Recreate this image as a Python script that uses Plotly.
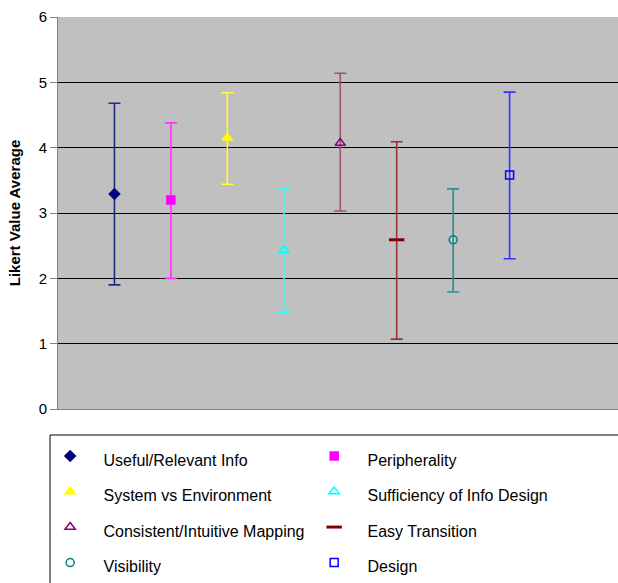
import plotly.graph_objects as go

names = ["Useful/Relevant Info", "Peripherality", "System vs Environment",
         "Sufficiency of Info Design", "Consistent/Intuitive Mapping",
         "Easy Transition", "Visibility", "Design"]
x_pos = [1, 2, 3, 4, 5, 6, 7, 8]
means = [3.29, 3.20, 4.15, 2.43, 4.07, 2.59, 2.59, 3.58]
upper = [4.68, 4.38, 4.84, 3.37, 5.14, 4.09, 3.37, 4.85]
lower = [1.90, 2.00, 3.44, 1.48, 3.03, 1.07, 1.79, 2.30]
colors = ["#000080", "#FF00FF", "#FFFF00", "#00FFFF", "#800080", "#800000", "#008080", "#0000FF"]
bar_colors = ["#1f2a80", "#FF33FF", "#FFFF33", "#33FFFF", "#a0507a", "#993333", "#2a9090", "#3333FF"]
symbols = ["diamond", "square", "triangle-up", "triangle-up-open", "triangle-up-open",
           "line-ew", "circle-open", "square-open"]
sizes = [8, 8, 9, 9, 9, 11, 8, 8]

fig = go.Figure()
for i in range(len(names)):
    fig.add_trace(go.Scatter(
        x=[x_pos[i]], y=[means[i]], mode="markers",
        name='<span style="font-size:16px">\u00a0\u00a0\u00a0' + names[i] + "</span>",
        marker=dict(symbol=symbols[i], color=colors[i], size=sizes[i],
                    line=dict(color=colors[i], width=1.5 if i != 5 else 3)),
        error_y=dict(type="data", symmetric=False,
                     array=[upper[i] - means[i]], arrayminus=[means[i] - lower[i]],
                     color=bar_colors[i], thickness=1.6, width=6),
    ))

fig.update_layout(
    width=618, height=583,
    margin=dict(l=58, r=0, t=17, b=174, autoexpand=False),
    paper_bgcolor="white", plot_bgcolor="#C0C0C0",
    font=dict(family="Arial, Liberation Sans, sans-serif", color="black"),
    xaxis=dict(range=[0, 9.92], showticklabels=False, showgrid=False, zeroline=False,
               ticks="", showline=True, linecolor="#808080", linewidth=1),
    yaxis=dict(range=[0, 6], dtick=1, showgrid=True, gridcolor="black", gridwidth=1,
               zeroline=False, showline=True, linecolor="#808080", linewidth=1,
               ticks="outside", ticklen=7, tickcolor="#808080",
               tickfont=dict(size=15), automargin=False,
               title=dict(text="<b>Likert Value Average</b>", font=dict(size=15), standoff=14)),
    showlegend=True,
    legend=dict(orientation="h", x=-0.014, xanchor="left", y=-0.062, yanchor="top",
                entrywidth=219, entrywidthmode="pixels", traceorder="normal",
                font=dict(size=25), bgcolor="rgba(0,0,0,0)", borderwidth=0),
    shapes=[dict(type="rect", xref="paper", yref="paper",
                 x0=-8/560, x1=1.1, y0=-26/392, y1=-0.5,
                 line=dict(color="black", width=1), fillcolor="rgba(0,0,0,0)", layer="below")],
)
fig.write_html("out.html", config={"displayModeBar": False},
               post_script="document.body.style.margin='0';document.body.style.overflow='hidden';")
